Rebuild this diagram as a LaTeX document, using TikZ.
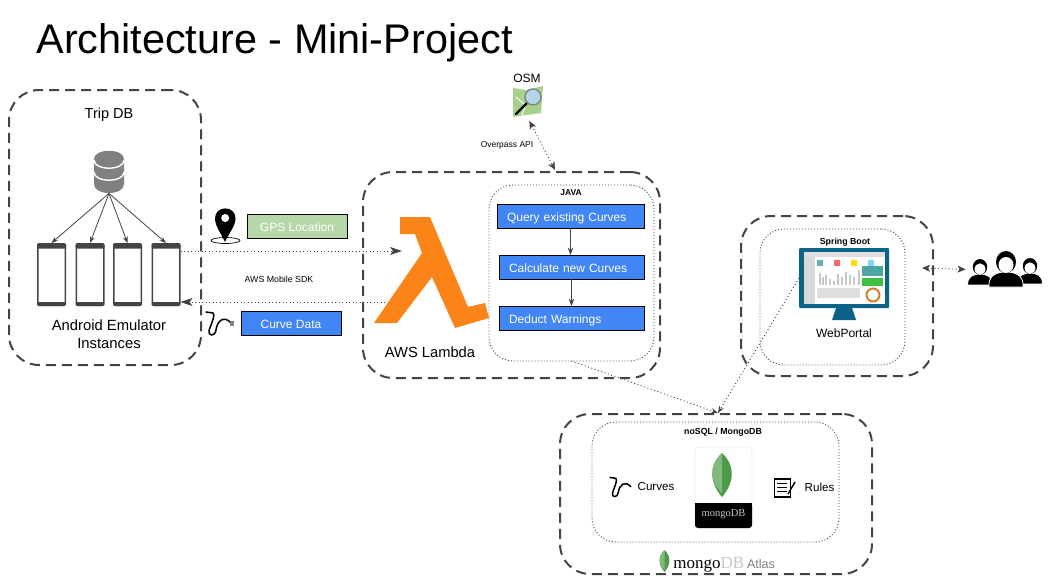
\documentclass[tikz,border=0pt]{standalone}
\usepackage{fontspec}
\setmainfont{Liberation Sans}
\newfontfamily\serifname{Liberation Serif}
\usetikzlibrary{positioning,arrows.meta,calc}
\definecolor{stageblue}{HTML}{4285F4}
\definecolor{gpsgreen}{HTML}{B6D7A8}
\definecolor{lambdaorange}{HTML}{FB8418}
\definecolor{monitorblue}{HTML}{0B6387}
\definecolor{leafgreen}{HTML}{4A9A46}
\definecolor{darkline}{HTML}{444444}
\definecolor{mapgreen}{HTML}{A8D08D}
\definecolor{lensblue}{HTML}{B5D5E8}
\newcommand{\fsz}[1]{\fontsize{#1}{#1}\selectfont}

\begin{document}
\begin{tikzpicture}[
  x=1pt, y=-1pt,
  >=Stealth,
  line width=0.8pt,
  outerbox/.style={
     draw=darkline,
     line width=2pt,
     dash pattern=on 10pt off 6pt,
     rounded corners=30pt,
     outer sep=0pt
  },
  innerbox/.style={
     draw=darkline,
     line width=0.9pt,
     dash pattern=on 1pt off 2pt,
     rounded corners=24pt,
     outer sep=0pt
  },
  stage/.style={
     draw=black,
     fill=stageblue,
     text=white,
     font=\fsz{12},
     align=left,
     inner xsep=10pt,
     inner ysep=0pt,
     outer sep=0pt,
     text height=11pt,
     text depth=0pt,
     minimum height=24pt
  },
  message/.style={
     draw=black,
     text=white,
     font=\fsz{12},
     minimum width=100pt,
     minimum height=24pt,
     text height=11pt,
     text depth=0pt,
     inner sep=0pt,
     outer sep=0pt
  },
  textlabel/.style={
     font=\fsz{#1},
     inner sep=0pt,
     align=center
  },
  textlabel/.default=14.5,
  link/.style={
     draw=darkline,
     line width=0.9pt,
     dash pattern=on 1pt off 2.5pt
  },
  bigtip/.style={
     arrows={-Stealth[length=12pt,width=8pt,inset=3pt]}
  },
  bothtip/.style={
     arrows={Stealth[length=8pt,width=7pt,inset=2pt]-Stealth[length=8pt,width=7pt,inset=2pt]}
  },
  mongoleaf/.pic={
     \fill[leafgreen] (0,-22) .. controls (-14,-9) and (-12,8) .. (0,22)
        .. controls (12,8) and (14,-9) .. (0,-22);
     \fill[leafgreen!70!white] (0,-22) .. controls (-14,-9) and (-12,8) .. (0,18) -- cycle;
  },
  curveicon/.pic={
     \draw[black,line width=1.5pt,line cap=round]
        (0,0) -- (7,1) .. controls (10,3) and (4,14) .. (3,19)
        .. controls (2,24) and (9,25) .. (10,18)
        .. controls (11,9) and (18,3) .. (25,11);
  },
  person/.pic={
     \draw[white,fill=black] (-17,18) .. controls (-18,6) and (-9,3) .. (0,3)
        .. controls (9,3) and (18,6) .. (17,18) -- cycle;
     \fill[black] (0,-7) ellipse [x radius=10, y radius=11];
     \fill[white] (0,-4) ellipse [x radius=7.5, y radius=8];
  }
]
\useasboundingbox (0,0) rectangle (1053,584);

% containers
\node[outerbox, minimum width=192pt, minimum height=275pt] (tripbox) at (105,227.5) {};
\node[outerbox, minimum width=297pt, minimum height=206pt] (lambdabox) at (511.5,275) {};
\node[outerbox, minimum width=192pt, minimum height=160pt] (portalbox) at (837,296) {};
\node[outerbox, minimum width=312pt, minimum height=160pt] (atlasbox) at (716,494) {};
\node[innerbox, minimum width=165pt, minimum height=176pt] (javabox) at (571.5,273) {};
\node[innerbox, minimum width=145pt, minimum height=136pt] (bootbox) at (832.5,297) {};
\node[innerbox, minimum width=247pt, minimum height=120pt] (nosqlbox) at (715.5,482) {};

% title
\node[textlabel=41.4, anchor=base west] (title) at (36,53) {Architecture - Mini-Project};

% trip db
\node[textlabel] (tripdb) at (109,115) {Trip DB};
\node[inner sep=0pt, minimum width=30pt, minimum height=42pt] (dbicon) at (109,172) {};
\fill[gray] (94,159) .. controls (94,148) and (124,148) .. (124,159) -- (124,184)
   .. controls (124,196) and (94,196) .. (94,184) -- cycle;
\draw[white,line width=1.4pt] (94,160) .. controls (94,171) and (124,171) .. (124,160);
\draw[white,line width=1.4pt] (94,172) .. controls (94,183) and (124,183) .. (124,172);

\foreach \i/\x in {1/51.5,2/90,3/127.5,4/166}{
  \node[draw=darkline, fill=white, line width=1.5pt, rounded corners=2pt,
        minimum width=27.5pt, minimum height=61.5pt, inner sep=0pt] (phone\i) at (\x,274.5) {};
  \fill[darkline, rounded corners=1.5pt] (phone\i.north west) rectangle ($(phone\i.north east)+(0,5.5)$);
  \fill[darkline, rounded corners=1.5pt] ($(phone\i.south west)+(0,-4)$) rectangle (phone\i.south east);
  \draw[->, darkline] (dbicon.south) -- (phone\i.north);
}
\node[textlabel=14.8] (android) at (109,334) {Android Emulator\\[3pt]Instances};

% messages
\node[message, fill=gpsgreen] (gps) at (297,226) {GPS Location};
\node[message, fill=stageblue] (curvedata) at (291,323) {Curve Data};
\node[textlabel=8.8] (sdk) at (279,279) {AWS Mobile SDK};

\fill[black] (225,242) .. controls (221,233) and (215,226) .. (215,218.5)
   .. controls (215,205) and (235.5,205) .. (235.5,218.5)
   .. controls (235.5,226) and (229,233) .. (225,242) -- cycle;
\fill[white] (225.2,218) ellipse [x radius=4, y radius=4];
\draw[black,line width=0.7pt] (225.5,240.5) ellipse [x radius=14.5, y radius=3];

\pic at (206,312) {curveicon};
\fill[gray] (230,321) rectangle (233.5,326);

\coordinate (lambdain) at (402,251);
\coordinate (lambdaout) at (385,302);
\draw[link, bigtip] (phone4.east |- lambdain) -- (lambdain);
\draw[link, bigtip] (lambdaout) -- (phone4.east |- lambdaout);

% lambda
\fill[lambdaorange] (400,217) -- (430,217) -- (468,307) -- (485,303) -- (489,318) -- (455,328)
   -- (432,277) -- (397,323) -- (374,323) -- (422,253) -- (415,234) -- (400,234) -- cycle;
\node[textlabel=14.7] (lambdaname) at (430,352) {AWS Lambda};

% java
\node[textlabel, font=\bfseries\fsz{8.5}] (java) at (571,193) {JAVA};
\node[stage, minimum width=147pt, text width=127pt] (query) at (570.5,216) {Query existing Curves};
\node[stage, minimum width=145pt, text width=125pt, below=27pt of query.south east, anchor=north east] (calc) {Calculate new Curves};
\node[stage, minimum width=145pt, text width=125pt, below=27pt of calc] (deduct) {Deduct Warnings};
\draw[->, darkline, line width=1pt] (query.south) -- (query.south |- calc.north);
\draw[->, darkline, line width=1pt] (calc) -- (deduct);

% osm
\node[textlabel=12] (osm) at (527,78) {OSM};
\node[inner sep=0pt, minimum width=31pt, minimum height=30pt] (osmicon) at (527.5,102) {};
\fill[mapgreen] (513,88) -- (526,90) -- (543,86) -- (541,113) -- (527,115) -- (513,117) -- cycle;
\draw[white,line width=1pt] (516,97) -- (525,105) -- (522,116);
\draw[black,line width=2.2pt,line cap=round] (516,114) -- (527,103);
\fill[lensblue] (533,97) ellipse [x radius=8, y radius=8];
\draw[gray,line width=1.3pt] (533,97) ellipse [x radius=8, y radius=8];
\node[textlabel=8.5] (overpass) at (507,145) {Overpass API};
\coordinate (lambdatop) at (555,170);
\draw[link, bothtip, shorten <=4pt] (osmicon.south) -- (lambdatop);

% web portal
\node[textlabel, font=\bfseries\fsz{8.8}] (spring) at (845,242) {Spring Boot};
\node[fill=monitorblue, rounded corners=1pt, minimum width=90pt, minimum height=60pt,
      inner sep=0pt, outer sep=0pt] (monitor) at (844,278) {};
\fill[monitorblue] (836,308) -- (852,308) -- (856,320) -- (832,320) -- cycle;
\fill[white] (804,252) rectangle (885,304);
\fill[gray!30] (804,252) rectangle (815,304);
\fill[gray!25] (804,252) rectangle (885,257);
\fill[teal!60] (817,260) rectangle (823,266);
\fill[red!60] (834,260) rectangle (840,266);
\fill[yellow!80!orange] (851,260) rectangle (857,266);
\fill[cyan!50] (868,260) rectangle (874,266);
\fill[teal!70] (862,266) rectangle (883,276);
\fill[green!50!gray] (862,278) rectangle (883,286);
\fill[gray!25] (817,288) rectangle (860,298);
\foreach \x/\h in {819/12,822/8,825/10,829/6,833/4,837/11,841/8,845/13,849/10,853/8,858/15}{
  \fill[gray!45] (\x,285) rectangle ++(2,-\h);
}
\draw[orange!60!gray,line width=2pt] (873,295) ellipse [x radius=6.5, y radius=6.5];
\node[textlabel=12] (webportal) at (844,333) {WebPortal};

% users
\node[inner sep=0pt, minimum width=71pt, minimum height=36pt] (users) at (1005.5,269.5) {};
\pic[scale=0.72] at (980,272) {person};
\pic[scale=0.72] at (1030,271) {person};
\pic at (1006,269) {person};
\coordinate (portalright) at (922,268);
\draw[link, bothtip, shorten >=4pt] (portalright) -- (users.west);

% mongo
\node[textlabel, font=\bfseries\fsz{8.8}] (nosql) at (723,432) {noSQL / MongoDB};
\node[draw=gray!15, fill=white, rounded corners=3pt, minimum width=57pt, minimum height=81pt,
      inner sep=0pt] (mongocard) at (723.5,487.5) {};
\fill[black, rounded corners=3pt] (695,503) rectangle (752,528);
\fill[black] (695,503) rectangle (752,512);
\pic at (722,475) {mongoleaf};
\node[font=\serifname\fsz{10.5}, text=gray!45, inner sep=0pt] (mongoname) at (723.5,514.5) {mongoDB};
\pic[scale=0.83] at (610,477.5) {curveicon};
\node[textlabel=11.6] (curves) at (656,487) {Curves};
\node[inner sep=0pt, minimum width=16pt, minimum height=18pt, draw=black, line width=1.2pt] (rulesicon) at (782.5,488) {};
\foreach \y in {483,487,491}{\draw[black,line width=1pt] (777,\y) -- (787,\y);}
\draw[black,line width=1.4pt] (788,494) -- (795,482);
\node[textlabel=11.6] (rules) at (819.5,487) {Rules};

\pic[scale=0.5] at (664.5,561) {mongoleaf};
\node[inner sep=0pt, anchor=base west] (atlas) at (673,568)
  {{\serifname\fsz{17}mongo\textcolor{gray!45}{DB}} \textcolor{gray}{\fsz{12.5}Atlas}};

\coordinate (atlastop) at (718,413);
\draw[link, ->] (javabox.south) -- (atlastop);
\draw[link, ->] (monitor.west) -- (atlastop);
\end{tikzpicture}
\end{document}
